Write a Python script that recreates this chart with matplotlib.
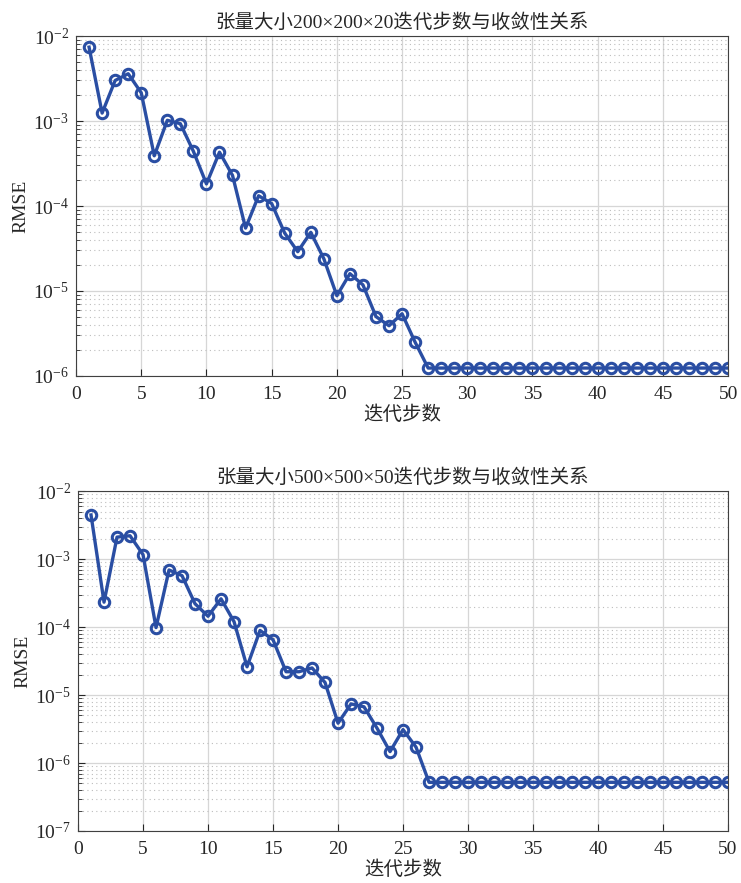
import numpy as np
import matplotlib
matplotlib.use("Agg")
import matplotlib.pyplot as plt
from matplotlib.ticker import LogLocator, MultipleLocator, NullFormatter

plt.rcParams["font.family"] = ["Liberation Serif", "Noto Sans CJK SC"]
plt.rcParams["mathtext.fontset"] = "stix"

steps = np.arange(1, 51)

# RMSE for the 200x200x20 tensor (steps 1..27, then flat)
rmse_small_head = [7.4e-3, 1.24e-3, 3.0e-3, 3.6e-3, 2.15e-3, 3.9e-4, 1.02e-3, 9.3e-4,
                   4.4e-4, 1.82e-4, 4.3e-4, 2.29e-4, 5.5e-5, 1.32e-4, 1.07e-4, 4.8e-5,
                   2.9e-5, 4.9e-5, 2.4e-5, 8.8e-6, 1.6e-5, 1.18e-5, 5.0e-6, 3.9e-6,
                   5.4e-6, 2.5e-6, 1.24e-6]
rmse_small = rmse_small_head + [1.24e-6] * (50 - len(rmse_small_head))

# RMSE for the 500x500x50 tensor
rmse_large_head = [4.45e-3, 2.32e-4, 2.1e-3, 2.2e-3, 1.16e-3, 9.8e-5, 6.9e-4, 5.7e-4,
                   2.2e-4, 1.44e-4, 2.6e-4, 1.2e-4, 2.6e-5, 8.9e-5, 6.5e-5, 2.2e-5,
                   2.2e-5, 2.5e-5, 1.53e-5, 3.85e-6, 7.4e-6, 6.7e-6, 3.25e-6, 1.47e-6,
                   3.1e-6, 1.71e-6, 5.2e-7]
rmse_large = rmse_large_head + [5.2e-7] * (50 - len(rmse_large_head))

titles = ["张量大小200×200×20迭代步数与收敛性关系",
          "张量大小500×500×50迭代步数与收敛性关系"]
ylims = [(1e-6, 1e-2), (1e-7, 1e-2)]

color = "#2a4ea3"

fig = plt.figure(figsize=(7.41, 8.83), dpi=100)
ax1 = fig.add_axes([0.1026, 0.5742, 0.8800, 0.3850])
ax2 = fig.add_axes([0.1053, 0.0589, 0.8772, 0.3850])

for ax, data, title, ylim in zip([ax1, ax2], [rmse_small, rmse_large], titles, ylims):
    ax.semilogy(steps, data, "-o", color=color, lw=2.4, ms=7.5,
                mfc="none", mec=color, mew=2.2)
    ax.set_xlim(0, 50)
    ax.set_ylim(*ylim)
    ax.xaxis.set_major_locator(MultipleLocator(5))
    ax.yaxis.set_major_locator(LogLocator(base=10, numticks=10))
    ax.yaxis.set_minor_locator(LogLocator(base=10, subs=np.arange(2, 10), numticks=20))
    ax.yaxis.set_minor_formatter(NullFormatter())
    ax.grid(True, which="major", color="#d6d6d6", lw=0.9)
    ax.grid(True, which="minor", axis="y", color="#bdbdbd", lw=0.8, ls=(0, (1, 3)))
    ax.set_axisbelow(True)
    ax.tick_params(which="both", direction="in", labelsize=14, colors="#262626")
    ax.tick_params(which="major", length=5)
    ax.tick_params(which="minor", length=3)
    ax.tick_params(axis="x", pad=7)
    ax.tick_params(axis="y", pad=5)
    for s in ax.spines.values():
        s.set_color("#404040")
        s.set_linewidth(0.8)
    ax.set_title(title, fontsize=14, color="#262626", pad=6)
    ax.set_xlabel("迭代步数", fontsize=14, color="#262626", labelpad=2)
    ax.set_ylabel("RMSE", fontsize=14, color="#262626", labelpad=3)

fig.savefig("out.png", dpi=100)
